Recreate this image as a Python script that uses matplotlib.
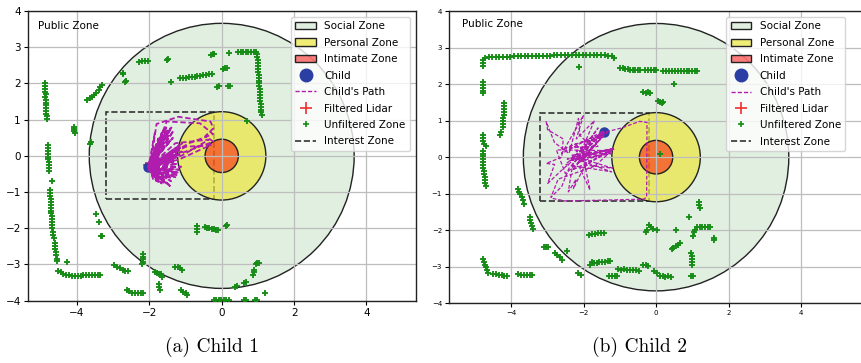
import matplotlib
matplotlib.use("Agg")
import matplotlib.pyplot as plt
from matplotlib.patches import Circle, Rectangle, Patch
from matplotlib.lines import Line2D

# ---------------- data ----------------
zone_radii = [3.66, 1.22, 0.46]          # social, personal, intimate
zone_labels = ["Social Zone", "Personal Zone", "Intimate Zone"]
interest_zone = [-3.2, -1.2, 3.0, 2.4]    # x0, y0, width, height
tick_x = [-4, -2, 0, 2, 4]
tick_y = [-4, -3, -2, -1, 0, 1, 2, 3, 4]
captions = ["(a) Child 1", "(b) Child 2"]

# Child 1
child1_pos = [-2.03, -0.32]
filtered1_x = [-2.09]
filtered1_y = [-0.26]
lidar1 = [
    (-4.88,2.00),(-4.87,1.93),(-4.88,1.85),(-4.87,1.77),(-4.86,1.70),(-4.87,1.62),(-4.86,1.55),
    (-4.86,1.47),(-4.85,1.40),(-4.86,1.32),(-4.85,1.25),(-4.85,1.17),(-4.84,1.10),(-4.84,1.02),
    (-4.09,0.80),(-4.08,0.74),(-4.07,0.68),(-4.06,0.62),
    (-4.81,0.30),(-4.80,0.22),(-4.80,0.14),(-4.79,0.06),(-4.80,-0.02),(-4.79,-0.10),(-4.78,-0.18),
    (-4.78,-0.26),(-4.77,-0.34),(-4.77,-0.42),(-4.69,-0.69),
    (-4.75,-0.95),(-4.74,-1.03),(-4.74,-1.11),(-4.73,-1.19),(-4.73,-1.27),(-4.72,-1.35),(-4.72,-1.43),
    (-4.71,-1.51),(-4.71,-1.59),(-4.70,-1.67),(-4.70,-1.75),(-4.69,-1.83),(-4.69,-1.91),(-4.68,-1.99),
    (-4.66,-2.10),(-4.65,-2.18),(-4.64,-2.26),(-4.62,-2.40),(-4.61,-2.50),(-4.60,-2.58),(-4.59,-2.66),
    (-4.58,-2.74),(-4.56,-2.84),(-4.55,-2.90),(-4.27,-2.93),
    (-4.52,-3.18),(-4.45,-3.22),(-4.38,-3.25),(-4.30,-3.28),(-4.22,-3.30),(-4.14,-3.31),(-4.06,-3.31),
    (-3.98,-3.31),(-3.90,-3.31),(-3.82,-3.30),(-3.74,-3.30),(-3.66,-3.30),(-3.58,-3.29),(-3.50,-3.29),
    (-3.42,-3.29),(-3.36,-3.28),
    (-3.71,1.55),(-3.64,1.60),(-3.58,1.63),(-3.52,1.68),(-3.46,1.74),(-3.40,1.82),(-3.35,1.90),(-3.30,1.96),
    (-2.74,2.26),(-2.72,2.30),(-2.66,2.03),(-2.64,2.07),(-3.64,0.33),(-3.62,0.37),
    (-3.46,-1.60),(-3.39,-1.84),(-3.34,-2.20),(-3.30,-2.22),
    (-2.98,-3.02),(-2.90,-3.06),(-2.82,-3.10),(-2.74,-3.14),(-2.66,-3.17),(-2.60,-3.19),
    (-2.62,-3.70),(-2.55,-3.74),(-2.48,-3.78),(-2.40,-3.80),(-2.32,-3.80),(-2.24,-3.80),(-2.18,-3.80),
    (-2.28,2.60),(-2.20,2.62),(-2.12,2.61),(-2.05,2.62),(-1.52,2.66),(-1.48,2.68),(-1.40,2.03),
    (-1.15,2.14),(-1.07,2.15),(-0.99,2.16),(-0.91,2.17),(-0.83,2.18),(-0.75,2.19),(-0.67,2.20),
    (-0.59,2.21),(-0.51,2.22),(-0.43,2.23),(-0.35,2.25),(-0.28,2.26),
    (-0.30,2.78),(-0.24,2.80),(-0.20,2.81),(0.21,2.84),(0.04,2.41),(0.09,2.42),(0.14,2.44),
    (-0.12,1.90),(-0.07,1.92),(0.18,1.93),(0.24,1.92),
    (0.46,2.86),(0.53,2.87),(0.60,2.87),(0.67,2.88),(0.74,2.88),(0.81,2.88),(0.88,2.88),(0.94,2.86),
    (0.97,2.80),(0.98,2.72),(0.99,2.64),(1.00,2.56),(1.00,2.48),(1.01,2.40),(1.01,2.32),(1.02,2.24),
    (1.02,2.16),(1.03,2.08),(1.04,2.00),(1.04,1.92),(1.05,1.84),(1.06,1.76),(1.06,1.68),(1.07,1.60),
    (1.07,1.52),(1.08,1.44),(1.08,1.36),(1.09,1.28),(1.09,1.20),(1.10,1.12),(0.69,0.97),
    (-0.69,-1.95),(-0.69,-2.02),(-0.68,-2.09),
    (-0.46,-1.96),(-0.40,-1.98),(-0.34,-1.99),(-0.28,-2.01),(-0.22,-2.02),(-0.16,-2.04),(-0.10,-2.05),
    (0.12,-1.95),(0.16,-1.91),
    (-2.18,-2.70),(-2.17,-2.78),(-2.17,-2.86),(-2.18,-2.94),(-2.19,-3.00),
    (-1.84,-3.22),(-1.78,-3.24),(-1.72,-3.26),(-1.67,-3.27),(-1.64,-3.35),
    (-1.74,-3.55),(-1.72,-3.62),(-1.70,-3.70),
    (-1.29,-3.06),(-1.22,-3.08),(-1.16,-3.11),(-1.10,-3.14),
    (-1.12,-3.70),(-1.06,-3.76),(-1.00,-3.80),(-0.97,-3.85),
    (-0.22,-3.98),(-0.15,-3.98),(-0.08,-3.98),(-0.02,-3.98),(0.05,-3.98),(0.12,-3.98),(0.19,-3.98),
    (0.37,-3.62),(0.43,-3.60),(0.62,-3.52),(0.68,-3.48),
    (0.86,-3.30),(0.88,-3.22),(0.90,-3.16),(0.94,-3.00),(0.98,-2.97),(1.02,-2.96),
    (1.20,-3.80),(0.62,-3.98),(0.68,-3.98),(0.92,-3.98),(0.98,-3.98),
]
lidar1_x = [p[0] for p in lidar1]
lidar1_y = [p[1] for p in lidar1]

path1 = [
    (-2.02,-0.30),(-1.38,0.80),(-1.95,-0.25),(-1.60,0.72),(-2.00,-0.20),(-1.75,0.48),(-1.98,-0.28),
    (-1.10,0.34),(-2.03,-0.32),(-1.10,0.12),(-1.96,-0.30),(-1.12,-0.30),(-2.00,-0.35),(-1.20,-0.53),
    (-1.98,-0.40),(-1.43,-0.83),(-2.05,-0.36),(-1.66,-0.76),(-2.00,-0.30),(-1.89,-0.66),(-1.95,-0.28),
    (-1.34,-0.17),(-2.02,-0.26),(-1.45,0.60),(-1.99,-0.33),(-1.25,0.05),(-2.01,-0.29),(-1.30,-0.45),
    (-1.97,-0.31),(-1.55,-0.70),(-2.03,-0.22),(-1.50,0.70),(-1.96,-0.18),(-1.40,0.45),(-2.00,-0.27),
    (-1.15,0.22),(-1.98,-0.36),(-1.38,-0.62),(-2.04,-0.30),(-1.75,-0.72),(-1.99,-0.24),(-1.62,0.55),
    (-1.97,-0.22),(-1.80,0.88),(-1.20,1.08),(-0.31,0.95),(-0.23,0.76),(-0.45,0.55),(-0.23,0.39),
    (-1.05,0.10),(-1.99,-0.30),(-1.18,-0.10),(-0.30,0.30),(-1.00,0.25),(-2.00,-0.31),(-1.52,0.95),
    (-0.60,0.90),(-0.24,0.60),(-0.90,0.35),(-1.97,-0.27),(-1.28,0.35),(-0.35,0.45),(-1.08,0.02),
    (-2.01,-0.33),(-1.48,-0.55),(-1.95,-0.35),(-1.58,0.30),(-1.98,-0.29),(-1.85,0.62),(-2.02,-0.28),
    (-1.22,-0.22),(-2.00,-0.34),(-1.33,0.70),(-1.97,-0.30),(-1.68,-0.55),(-2.03,-0.30),
    (-1.42,0.76),(-1.96,-0.26),(-1.55,0.62),(-2.01,-0.31),(-1.70,0.40),(-1.98,-0.33),(-1.12,0.28),
    (-2.02,-0.27),(-1.15,0.05),(-1.99,-0.35),(-1.18,-0.38),(-2.03,-0.31),(-1.25,-0.60),(-1.96,-0.32),
    (-1.48,-0.78),(-2.00,-0.29),(-1.60,-0.74),(-1.97,-0.34),(-1.80,-0.70),(-2.02,-0.30),(-1.30,-0.10),
    (-1.99,-0.28),(-1.35,0.50),(-2.01,-0.26),(-1.20,0.18),(-1.98,-0.30),(-1.40,-0.70),(-2.00,-0.33),
    (-1.52,0.82),(-1.96,-0.24),(-1.65,0.65),(-2.02,-0.29),(-1.22,-0.46),(-1.99,-0.32),
]
path1_x = [p[0] for p in path1]
path1_y = [p[1] for p in path1]

# Child 2
child2_pos = [-1.43, 0.68]
filtered2_x = [-1.44]
filtered2_y = [0.68]
lidar2 = [
    (-4.72,2.72),(-4.62,2.73),(-4.52,2.73),(-4.42,2.74),(-4.32,2.74),(-4.22,2.75),(-4.12,2.75),
    (-4.02,2.75),(-3.92,2.76),(-3.82,2.76),(-3.72,2.76),(-3.62,2.77),(-3.52,2.77),(-3.42,2.77),
    (-3.32,2.78),(-3.22,2.78),(-3.12,2.78),(-3.02,2.78),(-2.92,2.78),(-2.82,2.79),(-2.72,2.79),
    (-2.62,2.79),(-2.52,2.80),(-2.42,2.80),(-2.32,2.79),(-2.22,2.79),(-2.12,2.79),(-2.02,2.79),
    (-1.92,2.79),(-1.82,2.79),(-1.72,2.79),(-1.62,2.79),(-1.52,2.79),(-1.42,2.79),(-1.32,2.78),
    (-1.22,2.77),(-1.16,2.72),
    (-4.78,2.66),(-4.78,2.58),(-4.77,2.50),
    (-4.78,2.06),(-4.78,1.98),(-4.77,1.90),(-4.77,1.82),(-4.76,1.75),
    (-4.20,1.47),(-4.20,1.39),(-4.20,1.31),(-4.20,1.23),(-4.20,1.15),(-4.21,1.07),(-4.21,0.99),
    (-4.22,0.91),(-4.22,0.83),(-4.27,0.68),(-4.31,0.62),
    (-4.78,0.60),(-4.77,0.52),(-4.76,0.44),(-4.74,0.36),(-4.70,0.30),
    (-4.78,0.18),(-4.78,0.10),(-4.78,0.02),(-4.77,-0.06),(-4.77,-0.14),(-4.76,-0.22),(-4.76,-0.30),
    (-4.75,-0.38),(-4.74,-0.46),(-4.73,-0.54),(-4.72,-0.62),(-4.71,-0.70),(-4.70,-0.78),
    (-3.80,-0.86),(-3.77,-0.94),(-3.74,-1.02),(-3.71,-1.10),(-3.68,-1.18),(-3.64,-1.27),
    (-3.49,-1.64),(-3.47,-1.72),(-3.45,-1.80),(-3.43,-1.88),(-3.40,-1.96),
    (-3.10,-2.45),(-3.04,-2.46),(-2.98,-2.47),
    (-2.78,-2.62),(-2.72,-2.68),(-2.66,-2.74),(-2.60,-2.82),(-2.46,-2.58),
    (-4.76,-2.78),(-4.74,-2.86),(-4.72,-2.94),(-4.70,-3.02),(-4.67,-3.10),(-4.64,-3.18),
    (-4.50,-3.19),(-4.42,-3.20),(-4.34,-3.22),(-4.26,-3.23),(-4.18,-3.24),(-4.12,-3.25),
    (-3.80,-3.21),(-3.72,-3.22),(-3.64,-3.22),(-3.56,-3.23),(-3.48,-3.22),(-3.41,-3.23),
    (-2.14,-3.16),(-2.08,-3.22),
    (-1.84,-2.13),(-1.76,-2.11),(-1.68,-2.10),(-1.60,-2.08),(-1.52,-2.07),(-1.44,-2.07),
    (-1.82,-2.96),(-1.78,-2.88),(-1.72,-2.90),(-1.64,-2.89),(-1.56,-2.88),(-1.48,-2.88),(-1.40,-2.86),
    (-1.32,-2.85),(-1.26,-2.84),
    (-1.04,-3.07),(-0.96,-3.08),(-0.88,-3.06),(-0.80,-3.08),(-0.72,-3.09),(-0.64,-3.08),(-0.56,-3.10),
    (-0.48,-3.11),
    (-1.30,-3.25),(-1.22,-3.25),(-1.14,-3.26),(-1.08,-3.25),
    (-0.35,-2.94),(-0.28,-2.96),(-0.22,-2.98),
    (-0.05,-3.12),(0.02,-3.18),(0.10,-3.26),(0.18,-3.26),(0.26,-3.27),(0.34,-3.26),(0.42,-3.27),
    (-0.28,-2.06),(-0.24,-1.98),(-0.20,-1.86),(-0.14,-1.92),(-0.08,-1.96),(0.02,-2.00),
    (0.43,-2.52),(0.48,-2.48),(0.54,-2.44),(0.60,-2.40),(0.65,-2.36),(0.55,-1.98),
    (0.97,-2.62),(0.98,-2.70),(0.98,-2.78),(0.99,-2.86),(0.99,-2.94),
    (1.02,-2.15),(1.04,-2.06),(1.06,-1.98),(1.12,-1.92),(1.20,-1.90),(1.28,-1.90),(1.36,-1.90),
    (1.44,-1.91),(1.50,-1.91),
    (1.18,-1.22),(1.19,-1.30),(1.20,-1.38),(0.92,-1.63),(1.60,-2.22),(1.60,-2.28),
    (0.96,-3.25),(1.02,-3.25),
    (-0.99,2.44),(-0.92,2.43),(-0.85,2.42),(-0.78,2.41),(-0.71,2.40),(-0.64,2.40),(-0.57,2.39),
    (-0.50,2.38),(-0.44,2.38),
    (-0.30,2.39),(-0.22,2.38),(-0.14,2.39),(-0.06,2.38),(0.00,2.39),
    (0.20,2.37),(0.28,2.37),(0.36,2.37),(0.44,2.36),(0.52,2.36),(0.60,2.36),(0.68,2.36),(0.76,2.35),
    (0.84,2.36),(0.92,2.36),(1.00,2.36),(1.08,2.36),(1.13,2.36),
    (-2.12,2.47),(0.50,2.01),
    (-0.35,1.79),(-0.28,1.77),(-0.22,1.78),(-0.16,1.75),
    (0.05,1.53),(0.10,1.50),(0.16,1.49),(0.20,1.52),(0.10,0.08),
]
lidar2_x = [p[0] for p in lidar2]
lidar2_y = [p[1] for p in lidar2]

path2 = [
    (-2.85,-1.13),(-2.50,-1.20),(-0.35,-1.15),(-0.26,-1.10),(-0.25,0.95),(-0.45,0.98),(-0.95,0.80),
    (-1.43,0.68),(-2.30,0.00),(-1.18,0.24),(-2.40,-0.10),(-1.23,0.10),(-2.20,-0.05),(-1.23,-0.40),
    (-2.50,-0.20),(-1.45,0.72),(-2.60,0.10),(-2.00,1.15),(-2.20,0.50),(-1.70,1.00),(-2.05,0.20),
    (-1.82,-0.90),(-2.10,-0.30),(-1.20,0.20),(-2.30,-0.35),(-1.45,0.65),(-2.65,-0.40),(-2.99,-0.72),
    (-2.80,-0.20),(-3.03,-0.17),(-2.60,0.00),(-2.56,0.50),(-2.99,0.75),(-3.03,0.97),(-2.80,0.40),
    (-2.40,0.10),(-2.14,1.06),(-2.10,0.60),(-1.90,0.40),(-1.60,0.80),(-2.30,-0.20),(-2.42,-0.95),
    (-2.20,-0.60),(-2.28,-0.86),(-2.00,-0.30),(-1.91,-0.22),(-1.20,-0.30),(-2.35,0.05),(-1.15,0.22),
    (-2.45,-0.05),(-1.25,0.15),(-1.70,-0.25),(-2.70,-0.60),(-2.90,-1.10),(-2.60,-0.80),(-2.40,-0.30),
    (-1.45,0.70),(-2.20,0.15),(-1.60,0.30),(-2.50,0.25),(-1.35,0.68),(-2.15,-0.15),(-1.22,0.18),
    (-2.75,0.20),(-2.50,-0.45),(-1.85,0.10),(-2.25,0.35),(-1.50,0.55),(-2.05,-0.10),(-1.40,0.66),
]
path2_x = [p[0] for p in path2]
path2_y = [p[1] for p in path2]

# ---------------- style ----------------
social_fc = (0.0, 0.5, 0.0, 0.12)
personal_fc = (0.92, 0.90, 0.24, 0.70)
intimate_fc = (1.0, 0.0, 0.0, 0.5)
path_color = "#b01cae"
child_color = "#2a3ea4"
lidar_color = "#168c16"

plt.rcParams["font.family"] = ["DejaVu Sans"]

fig = plt.figure(figsize=(8.61, 3.63), dpi=100)

panels = [
    dict(rect=[0.0322, 0.1716, 0.4506, 0.798], xlim=(-5.36, 5.36), tick_fs=7.5,
         child=child1_pos, fx=filtered1_x, fy=filtered1_y, lx=lidar1_x, ly=lidar1_y,
         px=path1_x, py=path1_y, plw=1.3, text_xy=(-5.08, 3.59), leg_anchor=(0.985, 0.979)),
    dict(rect=[0.5215, 0.1645, 0.4797, 0.805], xlim=(-5.71, 5.68), tick_fs=5.0,
         child=child2_pos, fx=filtered2_x, fy=filtered2_y, lx=lidar2_x, ly=lidar2_y,
         px=path2_x, py=path2_y, plw=0.9, text_xy=(-5.34, 3.64), leg_anchor=(0.959, 0.979)),
]

for i, p in enumerate(panels):
    ax = fig.add_axes(p["rect"])
    ax.set_xlim(*p["xlim"])
    ax.set_ylim(-4, 4)
    ax.set_xticks(tick_x)
    ax.set_yticks(tick_y)
    ax.tick_params(labelsize=p["tick_fs"], length=3, width=0.8, pad=2)
    ax.grid(True, color="#bdbdbd", linewidth=0.9)
    for s in ax.spines.values():
        s.set_linewidth(1.0)
        s.set_color("#222222")

    ax.add_patch(Circle((0, 0), zone_radii[0], facecolor=social_fc, edgecolor="#222222", lw=1.0, zorder=1))
    ax.add_patch(Rectangle((interest_zone[0], interest_zone[1]), interest_zone[2], interest_zone[3],
                           fill=False, edgecolor="#333333", ls="--", lw=1.2, zorder=1.2))
    ax.add_patch(Circle((0, 0), zone_radii[1], facecolor=personal_fc, edgecolor="#222222", lw=1.0, zorder=1.3))
    ax.add_patch(Circle((0, 0), zone_radii[2], facecolor=intimate_fc, edgecolor="#222222", lw=1.0, zorder=1.4))

    ax.plot(p["lx"], p["ly"], ls="none", marker="+", ms=3.8, mew=1.35, color=lidar_color, zorder=3)
    ax.plot(p["child"][0], p["child"][1], "o", ms=6.5, color=child_color, zorder=3.5)
    ax.plot(p["px"], p["py"], ls="--", lw=p["plw"], color=path_color, zorder=4, dashes=(3, 1.5))
    ax.plot(p["fx"], p["fy"], ls="none", marker="+", ms=5, mew=1.2, color="#ee3030", zorder=3.4)

    ax.text(p["text_xy"][0], p["text_xy"][1], "Public Zone", fontsize=7.5, va="center", ha="left")

    handles = [
        Patch(facecolor=social_fc, edgecolor="#222222", lw=1.0),
        Patch(facecolor=personal_fc, edgecolor="#222222", lw=1.0),
        Patch(facecolor=intimate_fc, edgecolor="#222222", lw=1.0),
        Line2D([], [], ls="none", marker="o", ms=9, color=child_color),
        Line2D([], [], ls="--", lw=1.0, color=path_color, dashes=(3, 1.5)),
        Line2D([], [], ls="none", marker="+", ms=8, mew=1.2, color="#ee3030"),
        Line2D([], [], ls="none", marker="+", ms=4, mew=1.2, color=lidar_color),
        Line2D([], [], ls="--", lw=1.2, color="#333333"),
    ]
    labels = zone_labels + ["Child", "Child's Path", "Filtered Lidar", "Unfiltered Zone", "Interest Zone"]
    ax.legend(handles, labels, loc="upper right", bbox_to_anchor=p["leg_anchor"], borderaxespad=0,
              fontsize=7.5, framealpha=0.8, handlelength=2.0, labelspacing=0.62)

fig.text(0.246, 0.044, captions[0], family="cmr10", fontsize=14, ha="center", va="center")
fig.text(0.743, 0.044, captions[1], family="cmr10", fontsize=14, ha="center", va="center")

fig.savefig("out.png", dpi=100)
